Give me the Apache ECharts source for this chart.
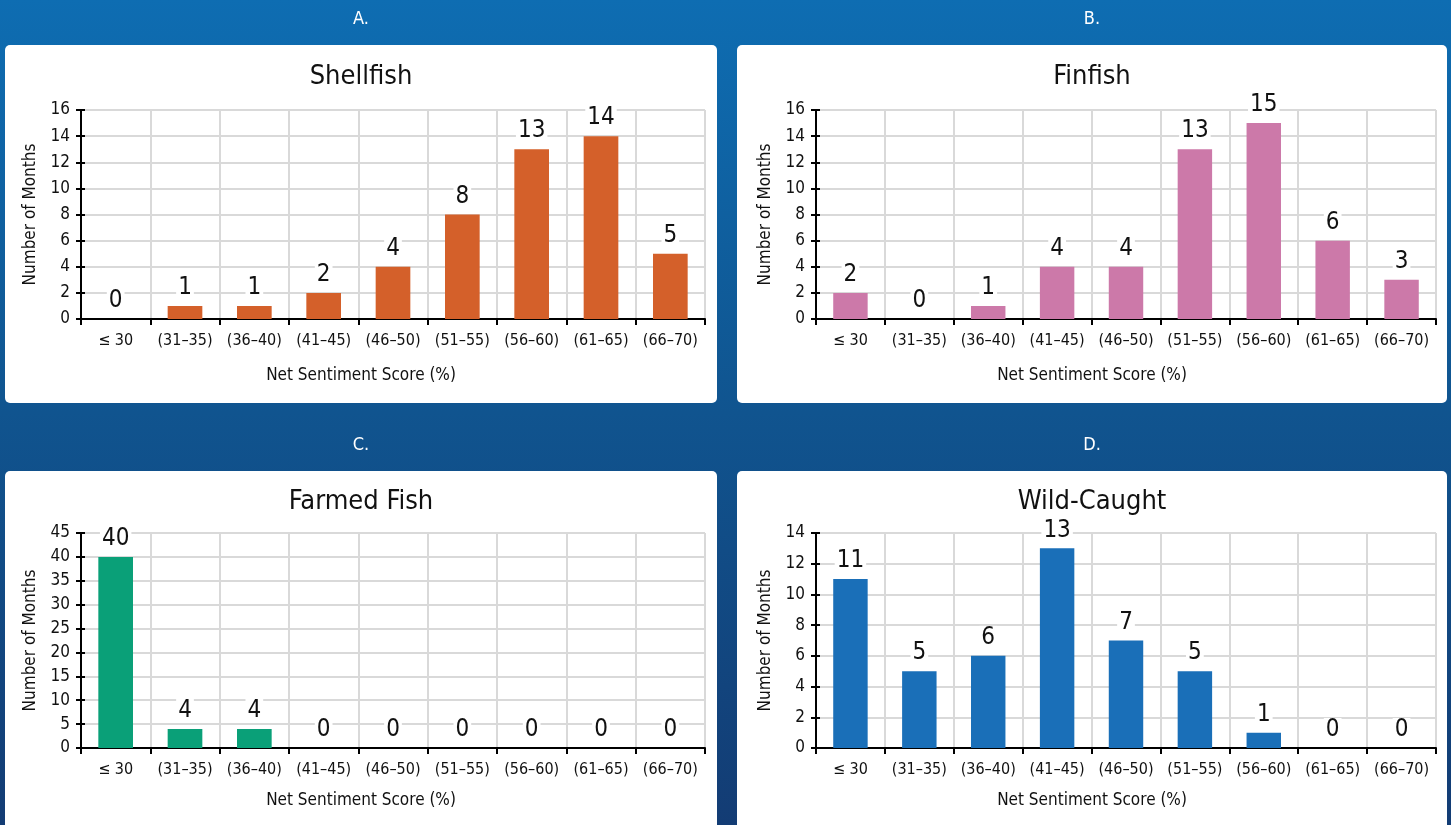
<!DOCTYPE html>
<html>
<head>
<meta charset="utf-8">
<script src="https://cdn.jsdelivr.net/npm/echarts@6/dist/echarts.min.js"></script>
<style>
  html, body { margin: 0; padding: 0; width: 1451px; height: 825px; overflow: hidden; }
  #chart { width: 1451px; height: 825px; }
</style>
</head>
<body>
<div id="chart"></div>
<script>
// Histogram categories (net sentiment score bins)
const categories = ['≤ 30', '(31–35)', '(36–40)', '(41–45)', '(46–50)', '(51–55)', '(56–60)', '(61–65)', '(66–70)'];

// Number of months per bin
const shellfish = [0, 1, 1, 2, 4, 8, 13, 14, 5];
const finfish = [2, 0, 1, 4, 4, 13, 15, 6, 3];
const farmedFish = [40, 4, 4, 0, 0, 0, 0, 0, 0];
const wildCaught = [11, 5, 6, 13, 7, 5, 1, 0, 0];

const panelLetters = ['A.', 'B.', 'C.', 'D.'];
const panelTitles = ['Shellfish', 'Finfish', 'Farmed Fish', 'Wild-Caught'];
const xAxisTitle = 'Net Sentiment Score (%)';
const yAxisTitle = 'Number of Months';

// y-axis ranges per panel
const yMax = [16, 16, 45, 14];
const yStep = [2, 2, 5, 2];

const FONT = '"DejaVu Sans Condensed", "DejaVu Sans", sans-serif';

const seriesData = [shellfish, finfish, farmedFish, wildCaught];
const colors = ['#d4602a', '#cc79a9', '#0aa078', '#1a6fb8'];

// panel geometry
const panels = [
  { x: 5, y: 45, w: 712, h: 358 },
  { x: 737, y: 45, w: 710, h: 358 },
  { x: 5, y: 471, w: 712, h: 370 },
  { x: 737, y: 471, w: 710, h: 370 }
];
const grids = [
  { left: 81, right: 746, top: 110, height: 209 },
  { left: 816, right: 15, top: 110, height: 209 },
  { left: 81, right: 746, top: 533, height: 215 },
  { left: 816, right: 15, top: 533, height: 215 }
];
const titleY = [77, 77, 502, 502];
const letterY = [19, 19, 445, 445];
const xNameY = [376, 376, 801, 801];

const graphic = [];
panels.forEach((p, i) => {
  const cx = p.x + p.w / 2;
  graphic.push({
    type: 'rect', z: -10, silent: true,
    shape: { x: p.x, y: p.y, width: p.w, height: p.h, r: 5 },
    style: { fill: '#ffffff' }
  });
  graphic.push({
    type: 'text', z: 10, silent: true, x: cx, y: letterY[i],
    style: { text: panelLetters[i], fill: '#ffffff', font: '18px ' + FONT, textAlign: 'center', textVerticalAlign: 'middle' }
  });
  graphic.push({
    type: 'text', z: 10, silent: true, x: cx, y: titleY[i],
    style: { text: panelTitles[i], fill: '#111111', font: '27px ' + FONT, textAlign: 'center', textVerticalAlign: 'middle' }
  });
  graphic.push({
    type: 'text', z: 10, silent: true, x: cx, y: xNameY[i],
    style: { text: xAxisTitle, fill: '#111111', font: '17px ' + FONT, textAlign: 'center', textVerticalAlign: 'middle' }
  });
});

const xAxis = [], yAxis = [], series = [];
grids.forEach((g, i) => {
  xAxis.push({
    type: 'category', gridIndex: i, data: categories, boundaryGap: true,
    axisLine: { lineStyle: { color: '#000', width: 2 } },
    axisTick: { show: true, length: 6, lineStyle: { color: '#000', width: 2 } },
    axisLabel: { color: '#111', fontFamily: FONT, fontSize: 16, margin: 14, interval: 0 },
    splitLine: { show: true, lineStyle: { color: '#d9d9d9', width: 2 } }
  });
  // main value axis with labels and outward ticks
  yAxis.push({
    type: 'value', gridIndex: i, position: 'left', min: 0, max: yMax[i], interval: yStep[i],
    name: yAxisTitle, nameLocation: 'middle', nameGap: 42,
    nameTextStyle: { color: '#111', fontFamily: FONT, fontSize: 17 },
    axisLine: { show: true, lineStyle: { color: '#000', width: 2 } },
    axisTick: { show: true, length: 5, lineStyle: { color: '#000', width: 2 } },
    axisLabel: { color: '#111', fontFamily: FONT, fontSize: 17, margin: 11 },
    splitLine: { show: true, lineStyle: { color: '#d9d9d9', width: 2 } }
  });
  // companion axis on the same side that only draws the inner half of the cross ticks
  yAxis.push({
    type: 'value', gridIndex: i, position: 'left', offset: 0, min: 0, max: yMax[i], interval: yStep[i],
    axisLine: { show: false },
    axisTick: { show: true, inside: true, length: 4, lineStyle: { color: '#000', width: 2 } },
    axisLabel: { show: false },
    splitLine: { show: false }
  });
  series.push({
    type: 'bar', xAxisIndex: i, yAxisIndex: i * 2, data: seriesData[i],
    barWidth: '50%',
    itemStyle: { color: colors[i] },
    label: {
      show: true, position: 'top', distance: 8,
      color: '#111', fontFamily: FONT, fontSize: 24,
      backgroundColor: '#ffffff', padding: [0, 2, -2, 2]
    }
  });
});

const chart = echarts.init(document.getElementById('chart'));
chart.setOption({
  animation: false,
  backgroundColor: {
    type: 'linear', x: 0, y: 0, x2: 0, y2: 1,
    colorStops: [
      { offset: 0, color: '#0e6db2' },
      { offset: 0.5, color: '#10548f' },
      { offset: 1, color: '#133c74' }
    ]
  },
  graphic: graphic,
  grid: grids.map(g => Object.assign({ containLabel: false }, g)),
  xAxis: xAxis,
  yAxis: yAxis,
  series: series
});
</script>
</body>
</html>
